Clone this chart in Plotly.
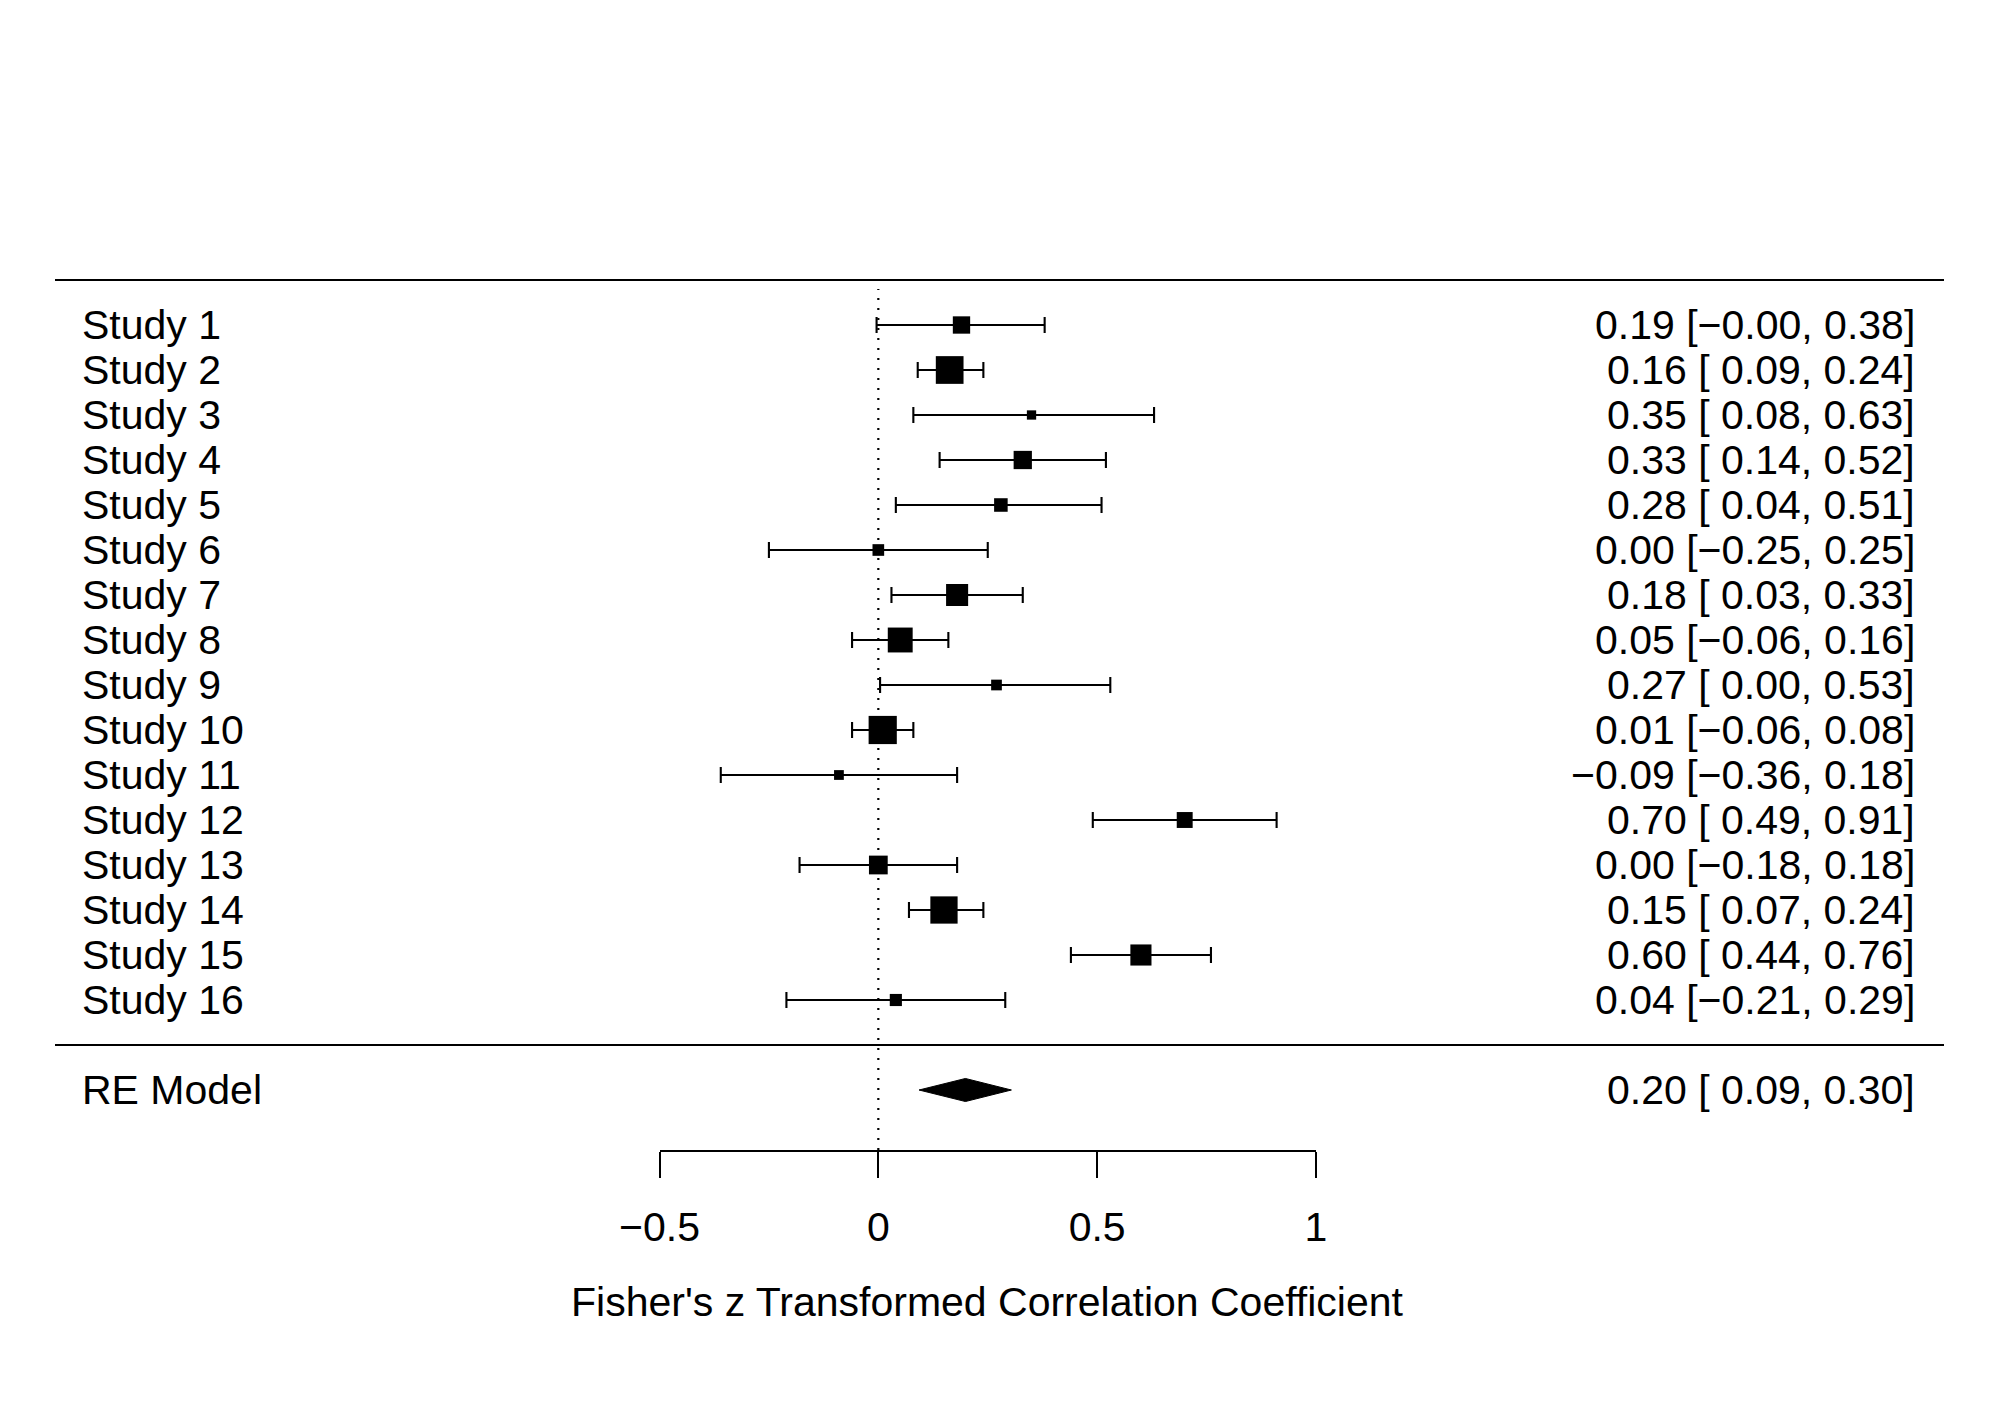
import plotly.graph_objects as go

# ---------------- data ----------------
studies = ["Study 1", "Study 2", "Study 3", "Study 4", "Study 5", "Study 6",
           "Study 7", "Study 8", "Study 9", "Study 10", "Study 11", "Study 12",
           "Study 13", "Study 14", "Study 15", "Study 16"]
yi = [0.19, 0.163, 0.35, 0.33, 0.28, 0.00, 0.18, 0.05, 0.27, 0.01,
      -0.09, 0.70, 0.00, 0.15, 0.60, 0.04]
ci_lb = [-0.004, 0.09, 0.08, 0.14, 0.04, -0.25, 0.03, -0.06, 0.004, -0.06,
         -0.36, 0.49, -0.18, 0.07, 0.44, -0.21]
ci_ub = [0.38, 0.24, 0.63, 0.52, 0.51, 0.25, 0.33, 0.16, 0.53, 0.08,
         0.18, 0.91, 0.18, 0.24, 0.76, 0.29]
weights_pct = [6.1, 8.3, 4.4, 6.3, 5.3, 4.9, 7.1, 7.7, 4.7, 8.4,
               4.5, 5.8, 6.4, 8.2, 6.9, 5.0]

model_label = "RE Model"
model_est, model_lb, model_ub = 0.199, 0.093, 0.304

tick_vals = [-0.5, 0, 0.5, 1]
tick_text = ["\u22120.5", "0", "0.5", "1"]
x_title = "Fisher's z Transformed Correlation Coefficient"

# ---------------- styling ----------------
FONT = "Liberation Sans, Arial, Helvetica, sans-serif"
FS = 41
OFF = 8                      # page body margin
W, H = 2000 - 2 * OFF, 1406 - 2 * OFF
k = len(studies)
rows = [k - i for i in range(k)]        # Study 1 on top row k
model_row = -1

# marker sizes: linear in weight (as metafor does)
smin, smax = 9.3, 28.2
wmin, wmax = min(weights_pct), max(weights_pct)
sizes = [smin + (w - wmin) / (wmax - wmin) * (smax - smin) for w in weights_pct]


def fmt(v):
    return f"{v:.2f}".replace("-", "\u2212")


def fmt_ci(est, lb, ub):
    l = fmt(lb)
    if not l.startswith("\u2212"):
        l = " " + l
    return f"{fmt(est)} [{l}, {fmt(ub)}]"


def px_x(p):   # target page pixel -> paper fraction
    return (p - OFF) / W


def px_y(p):
    return 1 - (p - OFF) / H


fig = go.Figure()

fig.add_trace(go.Scatter(
    x=yi, y=rows, mode="markers",
    marker=dict(symbol="square", size=sizes, color="black", opacity=1,
                line=dict(width=0)),
    error_x=dict(type="data", symmetric=False,
                 array=[u - e for u, e in zip(ci_ub, yi)],
                 arrayminus=[e - l for e, l in zip(yi, ci_lb)],
                 color="black", thickness=2.1, width=8),
    hoverinfo="skip", showlegend=False, cliponaxis=False,
))

dh = 0.256
fig.add_trace(go.Scatter(
    x=[model_lb, model_est, model_ub, model_est, model_lb],
    y=[model_row, model_row + dh, model_row, model_row - dh, model_row],
    mode="lines", fill="toself", fillcolor="black",
    line=dict(color="black", width=1),
    hoverinfo="skip", showlegend=False,
))

# axis geometry (target page pixels)
x_left_px, x_right_px = 659.5, 1316.0
axis_px = 1150.0
row_px = 45.0
row0_px = 1045.0
top_px = OFF
y_bottom = (row0_px - axis_px) / row_px
y_top = (row0_px - top_px) / row_px

fig.update_layout(
    width=W, height=H,
    margin=dict(l=0, r=0, t=0, b=0, pad=0, autoexpand=False),
    paper_bgcolor="white", plot_bgcolor="white",
    showlegend=False,
    font=dict(family=FONT, size=FS, color="black"),
    xaxis=dict(
        domain=[px_x(x_left_px), px_x(x_right_px)],
        range=[tick_vals[0], tick_vals[-1]],
        showgrid=False, zeroline=False, automargin=False,
        showline=True, linecolor="black", linewidth=2,
        ticks="outside", ticklen=26, tickwidth=2, tickcolor="black",
        tickvals=tick_vals, ticktext=tick_text,
        tickfont=dict(family=FONT, size=FS, color="black"),
        ticklabelstandoff=14,
        fixedrange=True,
    ),
    yaxis=dict(
        domain=[px_y(axis_px), 1],
        range=[y_bottom, y_top],
        visible=False, showgrid=False, zeroline=False, fixedrange=True,
        automargin=False,
    ),
)

line_x0, line_x1 = px_x(55), px_x(1944)
for yv in [k + 1, 0]:
    fig.add_shape(type="line", xref="paper", yref="y",
                  x0=line_x0, x1=line_x1, y0=yv, y1=yv,
                  line=dict(color="black", width=2.2))
fig.add_shape(type="line", xref="x", yref="y", x0=0, x1=0,
              y0=y_bottom, y1=k + 0.8,
              line=dict(color="black", width=2.2, dash="2px,8px"))

left_x = px_x(80)
right_x = px_x(1917)
for name, r, e, l, u in zip(studies, rows, yi, ci_lb, ci_ub):
    fig.add_annotation(x=left_x, y=r, xref="paper", yref="y", text=name,
                       showarrow=False, xanchor="left", yanchor="middle")
    fig.add_annotation(x=right_x, y=r, xref="paper", yref="y",
                       text=fmt_ci(e, l, u),
                       showarrow=False, xanchor="right", yanchor="middle")
fig.add_annotation(x=left_x, y=model_row, xref="paper", yref="y", text=model_label,
                   showarrow=False, xanchor="left", yanchor="middle")
fig.add_annotation(x=right_x, y=model_row, xref="paper", yref="y",
                   text=fmt_ci(model_est, model_lb, model_ub),
                   showarrow=False, xanchor="right", yanchor="middle")

fig.add_annotation(x=px_x((x_left_px + x_right_px) / 2), y=px_y(1302),
                   xref="paper", yref="paper", text=x_title,
                   showarrow=False, xanchor="center", yanchor="middle")

fig.write_html("out.html")
